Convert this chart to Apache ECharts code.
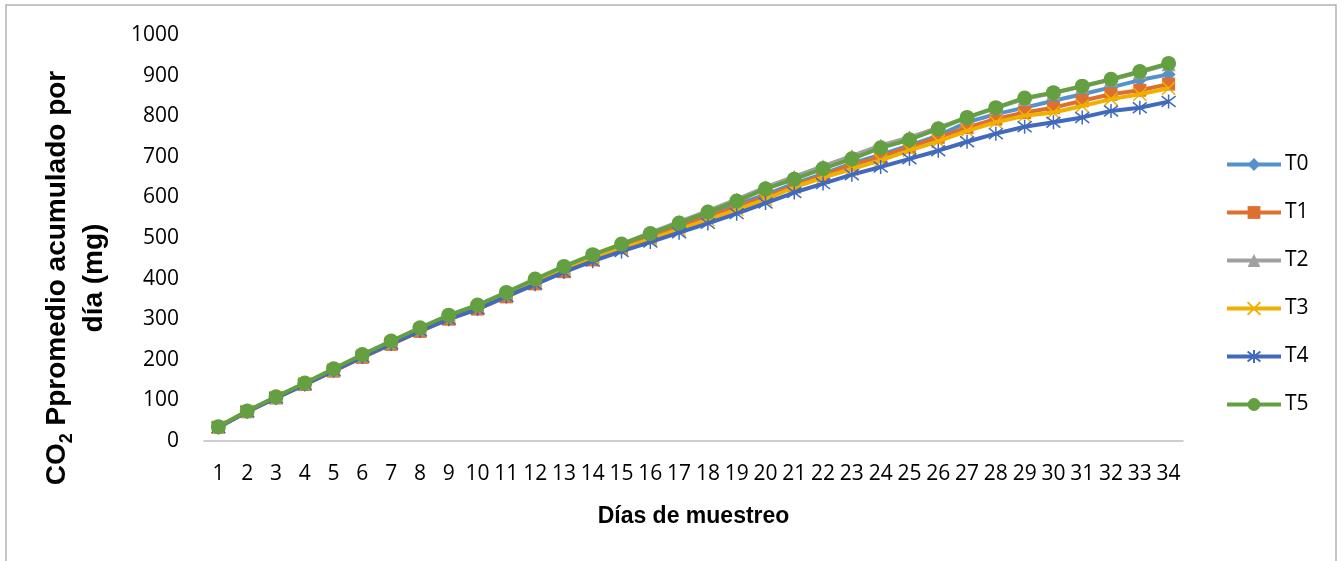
<!DOCTYPE html>
<html>
<head>
<meta charset="utf-8">
<script src="https://cdn.jsdelivr.net/npm/echarts@6/dist/echarts.min.js"></script>
<style>
html,body{margin:0;padding:0;background:#fff;}
#chart{width:1344px;height:561px;}
</style>
</head>
<body>
<div id="chart"></div>
<script>
const days = ['1','2','3','4','5','6','7','8','9','10','11','12','13','14','15','16','17','18','19','20','21','22','23','24','25','26','27','28','29','30','31','32','33','34'];
const seriesNames = ['T0','T1','T2','T3','T4','T5'];
const T0 = [34,73,107,141,175,209,242,274,304,329,359,391,422,451,479,505,531,557,582,607,634,658,684,705,728,752,785,805,821,838,854,871,889,903];
const T1 = [34,72,106,139,172,206,238,270,300,325,355,387,417,446,476,501,527,552,577,601,629,654,680,700,724,748,772,793,809,821,838,854,864,879];
const T2 = [35,74,108,142,176,211,244,277,307,333,364,397,428,457,485,513,540,567,595,625,651,677,702,728,748,772,797,820,843,857,873,890,908,928];
const T3 = [34,73,107,141,175,209,241,273,303,328,358,390,421,449,473,497,521,545,570,595,625,649,670,691,716,738,764,785,801,809,825,842,854,869];
const T4 = [33,72,106,139,173,207,239,271,300,325,356,386,416,443,467,490,513,536,560,586,612,634,656,675,695,715,737,757,774,785,797,813,821,836];
const T5 = [35,74,109,143,178,213,246,279,310,335,366,399,430,459,485,511,537,564,591,621,645,671,695,722,742,769,797,821,845,858,874,891,910,930];
const yTicks = [0,100,200,300,400,500,600,700,800,900,1000];

const values = [T0,T1,T2,T3,T4,T5];
const colors = ['#5592cc','#dd7030','#a0a0a0','#efb000','#4169bd','#64a041'];
const symbols = [
  'diamond',
  'rect',
  'triangle',
  'path://M0,0 L10,10 M10,0 L0,10',
  'path://M0,0 L10,10 M10,0 L0,10 M5,-1.5 L5,11.5',
  'circle'
];
const sizes = [14,13,14,13,14,15];
const strokeSym = [false,false,false,true,true,false];

const chart = echarts.init(document.getElementById('chart'));
const tickFont = 'Open Sans';

const series = seriesNames.map((n,i)=>({
  name: n,
  type: 'line',
  data: values[i],
  symbol: symbols[i],
  symbolSize: sizes[i],
  showAllSymbol: true,
  lineStyle: {color: colors[i], width: 4},
  itemStyle: strokeSym[i]
    ? {color: colors[i], borderColor: colors[i], borderWidth: 1.5}
    : {color: colors[i], borderWidth: 0},
  emphasis: {disabled: true},
  animation: false,
  z: 2 + i
}));

chart.setOption({
  animation: false,
  backgroundColor: '#ffffff',
  grid: {left: 204, top: 35, width: 979, height: 406, containLabel: false},
  xAxis: {
    type: 'category',
    data: days,
    boundaryGap: true,
    axisLine: {show: true, lineStyle: {color: '#bfbfbf', width: 1.5}},
    axisTick: {show: false},
    axisLabel: {interval: 0, margin: 23, color: '#000', fontFamily: tickFont, fontSize: 21},
    splitLine: {show: false},
    name: 'Días de muestreo',
    nameLocation: 'middle',
    nameGap: 64,
    nameTextStyle: {color: '#000', fontFamily: 'Liberation Sans', fontWeight: 'bold', fontSize: 23}
  },
  yAxis: {
    type: 'value',
    min: yTicks[0],
    max: yTicks[yTicks.length-1],
    interval: 100,
    axisLine: {show: false},
    axisTick: {show: false},
    splitLine: {show: false},
    axisLabel: {margin: 25, color: '#000', fontFamily: tickFont, fontSize: 21, formatter: v => String(v)}
  },
  legend: {
    orient: 'vertical',
    left: 1225,
    top: 154,
    itemWidth: 54,
    itemHeight: 16,
    itemGap: 27,
    padding: 0,
    lineStyle: {width: 4},
    textStyle: {color: '#000', fontFamily: tickFont, fontSize: 21, lineHeight: 19, padding: [0,0,0,-1]},
    data: seriesNames
  },
  graphic: [
    {
      type: 'rect',
      shape: {x: 6, y: 5, width: 1330, height: 620},
      style: {fill: 'none', stroke: '#b3b3b3', lineWidth: 1.5},
      silent: true
    },
    {
      type: 'text',
      x: 76, y: 278,
      rotation: Math.PI/2,
      silent: true,
      style: {
        text: '{b|CO}{s|2}{b| Ppromedio acumulado por}\n{b|día (mg)}',
        align: 'center',
        verticalAlign: 'middle',
        rich: {
          b: {fontFamily: 'Liberation Sans', fontWeight: 'bold', fontSize: 28, lineHeight: 37, fill: '#000', color: '#000'},
          s: {fontFamily: 'Liberation Sans', fontWeight: 'bold', fontSize: 18, lineHeight: 37, verticalAlign: 'bottom', fill: '#000', color: '#000'}
        }
      }
    }
  ],
  series: series
});
</script>
</body>
</html>
